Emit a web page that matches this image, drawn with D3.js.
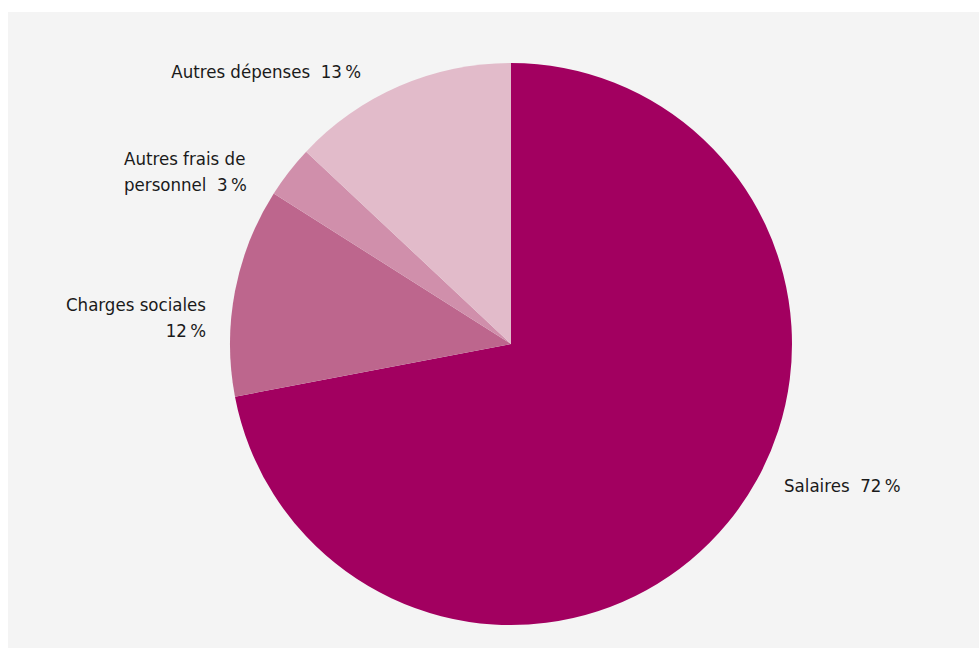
<!DOCTYPE html>
<html><head><meta charset="utf-8">
<script src="https://cdn.jsdelivr.net/npm/d3@7"></script>
<style>body{margin:0;background:#fff}svg{display:block}text{white-space:pre}</style>
</head><body><svg id="c" width="979" height="650"></svg>
<script>
const categories = ["Salaires", "Charges sociales", "Autres frais de personnel", "Autres dépenses"];
const values = [72, 12, 3, 13];
const colors = ["#a20060", "#bd668d", "#d08fab", "#e2bbca"];
const labelLines = [["Salaires\u00A0\u00A072\u202F%"], ["Charges sociales", "12\u202F%"], ["Autres frais de", "personnel\u00A0\u00A03\u202F%"], ["Autres dépenses\u00A0\u00A013\u202F%"]];

const svg = d3.select("#c");
svg.append("rect").attr("x", 8).attr("y", 12).attr("width", 971).attr("height", 636).attr("fill", "#f4f4f4");

const cx = 511, cy = 344, r = 281;
const pie = d3.pie().sort(null).value(d => d)(values);
const arc = d3.arc().innerRadius(0).outerRadius(r);
const g = svg.append("g").attr("transform", `translate(${cx},${cy})`);
g.selectAll("path").data(pie).join("path").attr("d", arc).attr("fill", (d, i) => colors[i]);

const labelPos = [[784, 485, "start"], [206, 304, "end"], [124, 158, "start"], [361, 71, "end"]];
labelLines.forEach((lines, i) => {
  const [x, y, a] = labelPos[i];
  const t = svg.append("text").attr("x", x).attr("y", y).attr("text-anchor", a)
    .attr("font-family", "'DejaVu Sans Condensed', 'DejaVu Sans', sans-serif")
    .attr("font-stretch", "condensed")
    .attr("font-size", 18.5).attr("fill", "#1a1a1a")
    .attr("dominant-baseline", "central");
  lines.forEach((l, j) => t.append("tspan").attr("x", x).attr("dy", j === 0 ? 0 : 26).text(l));
});
</script></body></html>
